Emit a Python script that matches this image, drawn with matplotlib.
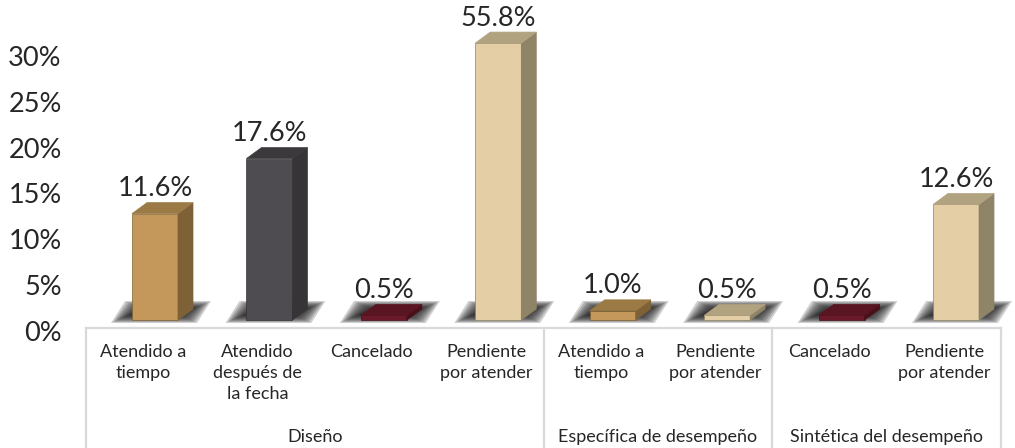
import matplotlib
matplotlib.use("Agg")
import matplotlib.pyplot as plt
from matplotlib.patches import Polygon, Rectangle
from matplotlib.transforms import ScaledTranslation

plt.rcParams['font.family'] = ['Lato', 'DejaVu Sans']

# data
groups = ['Diseño', 'Específica de desempeño', 'Sintética del desempeño']
group_sizes = [4, 2, 2]
categories = ['Atendido a\ntiempo', 'Atendido\ndespués de\nla fecha', 'Cancelado',
              'Pendiente\npor atender', 'Atendido a\ntiempo', 'Pendiente\npor atender',
              'Cancelado', 'Pendiente\npor atender']
values = [11.6, 17.6, 0.5, 55.8, 1.0, 0.5, 0.5, 12.6]
yticks = [0, 5, 10, 15, 20, 25, 30]

# front, side, top colours per status
palette = {
    'Atendido a\ntiempo': ('#C4985A', '#7E6136', '#9B7A45'),
    'Atendido\ndespués de\nla fecha': ('#4E4C50', '#363437', '#3B393C'),
    'Cancelado': ('#6B1A2B', '#4A1019', '#5A1523'),
    'Pendiente\npor atender': ('#E3CEA5', '#8F8468', '#B2A380'),
}

# ------------------------------
# layout (pixels)
# ------------------------------
W, H, DPI = 1015, 448, 100
ux = 114.43          # px per category
uy = 9.17            # px per percent
x0, y0 = 155, 320    # first bar centre / floor line (from top)
ytop = 30.5
cap = 30.2           # bar taller than axis is cut here

fig = plt.figure(figsize=(W / DPI, H / DPI), dpi=DPI)
ax = fig.add_axes([(x0 - 0.5 * ux) / W, (H - y0) / H, 8 * ux / W, ytop * uy / H])
ax.set_xlim(-0.5, 7.5)
ax.set_ylim(0, ytop)
for s in ax.spines.values():
    s.set_visible(False)
ax.set_xticks([])
ax.set_yticks(yticks)
ax.set_yticklabels([f'{t}%' for t in yticks], fontsize=19.5, color='#262626')
ax.tick_params(axis='y', length=0, pad=26)
for lab in ax.get_yticklabels():
    lab.set_transform(lab.get_transform() + ScaledTranslation(0, -11 / DPI, fig.dpi_scale_trans))

px = lambda p: p / ux
py = lambda p: p / uy

bw = px(46)
dx, dy = px(15), py(11)

# ------------------------------
# shadows (soft, built from stacked translucent parallelograms)
# ------------------------------
for i in range(len(values)):
    for k in range(10):
        hx, vy = px(k * 2.0), py(k * 0.9)
        pts = [(i + px(-44) + hx, py(-3) + vy), (i + px(42) - hx, py(-3) + vy),
               (i + px(56) - hx, py(19) - vy), (i + px(-30) + hx, py(19) - vy)]
        ax.add_patch(Polygon(pts, closed=True, facecolor='#1E1E1E', edgecolor='none',
                             alpha=0.2, zorder=1, clip_on=False))

# ------------------------------
# bars
# ------------------------------
for i, (cat, v) in enumerate(zip(categories, values)):
    front, side, top = palette[cat]
    h = min(v, cap)
    l, r = i - bw / 2, i + bw / 2
    ax.add_patch(Rectangle((l, 0), bw, h, facecolor=front, edgecolor=side,
                           linewidth=0.5, zorder=3, clip_on=False))
    ax.add_patch(Polygon([(r, 0), (r + dx, dy), (r + dx, h + dy), (r, h)], closed=True,
                         facecolor=side, edgecolor=side, linewidth=0.5, zorder=3, clip_on=False))
    ax.add_patch(Polygon([(l, h), (l + dx, h + dy), (r + dx, h + dy), (r, h)], closed=True,
                         facecolor=top, edgecolor=top, linewidth=0.5, zorder=3, clip_on=False))
    ax.text(i, h + dy + py(14), f'{v:.1f}%', ha='center', va='center',
            fontsize=19.5, color='#262626', clip_on=False)

# ------------------------------
# multi-level category axis
# ------------------------------
shift = px(-12)
ybox = py(-8)
ybot = py(-128)
line_kw = dict(color='#D9D9D9', linewidth=1.6, clip_on=False, zorder=2)
ax.plot([-0.5 + shift, 7.5 + shift], [ybox, ybox], **line_kw)
edge = -0.5
ax.plot([edge + shift] * 2, [ybox, ybot], **line_kw)
for g, n in zip(groups, group_sizes):
    ax.plot([edge + n + shift] * 2, [ybox, ybot], **line_kw)
    ax.text(edge + n / 2 + shift, py(-117), g, ha='center', va='center',
            fontsize=13, color='#262626', clip_on=False)
    edge += n

for i, cat in enumerate(categories):
    ax.text(i + shift, py(-24), cat, ha='center', va='top', fontsize=13,
            color='#262626', linespacing=1.38, clip_on=False)

fig.savefig('out.png', dpi=DPI)
